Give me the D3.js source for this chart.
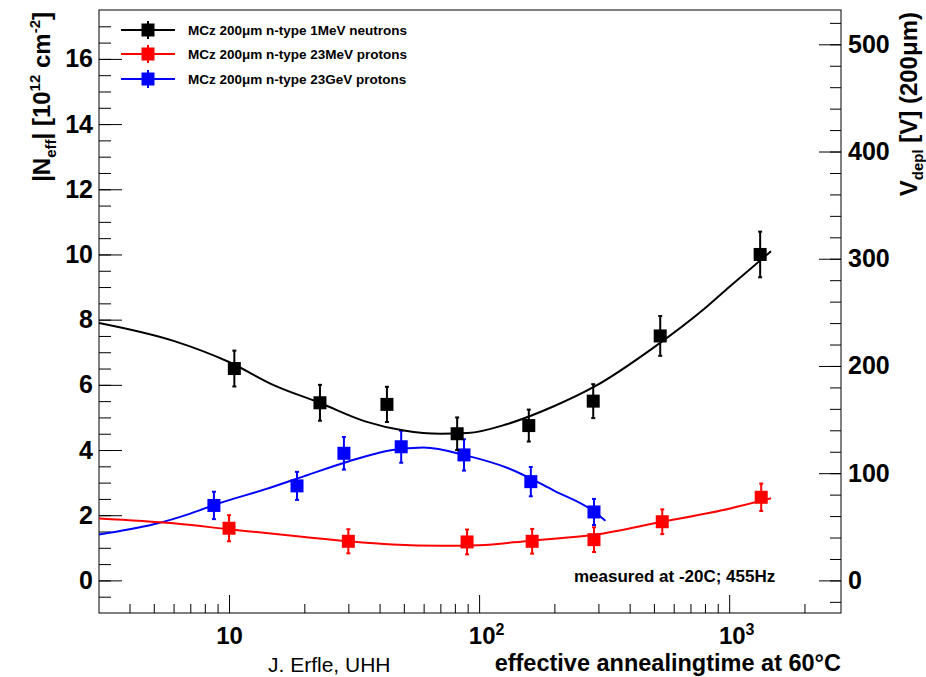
<!DOCTYPE html>
<html>
<head>
<meta charset="utf-8">
<script src="https://cdnjs.cloudflare.com/ajax/libs/d3/7.8.5/d3.min.js"></script>
<style>
  body { margin: 0; background: #fff; }
  svg { display: block; }
  text { font-family: "Liberation Sans", Arial, Helvetica, sans-serif; }
</style>
</head>
<body>
<div id="container"></div>
<script>
/* CONSTANTS AND GLOBALS */
const width = 926,
  height = 677,
  margin = { top: 10, bottom: 64, left: 99, right: 85 };

// N_eff -> V_depl for 200um thick sensor
const voltsPerUnit = 30.4;

/* DATA */
// 1MeV neutrons
const neutronTime = [10.5, 23.1, 42.8, 81.7, 158, 286, 530, 1330];
const neutronNeff = [6.5, 5.45, 5.4, 4.5, 4.75, 5.5, 7.5, 10.0];
const neutronErr  = [0.55, 0.55, 0.54, 0.5, 0.49, 0.52, 0.61, 0.7];
const neutronFitTime = [3.02, 6, 10, 15, 23, 35, 50, 70, 90, 130, 200, 290, 500, 800, 1000, 1470];
const neutronFitNeff = [7.9, 7.35, 6.7, 6.0, 5.45, 4.88, 4.6, 4.5, 4.52, 4.8, 5.35, 5.95, 7.15, 8.35, 9.0, 10.1];

// 23MeV protons
const pMeVTime = [10, 30, 89.5, 163, 288, 540, 1343];
const pMeVNeff = [1.6, 1.2, 1.18, 1.2, 1.25, 1.8, 2.55];
const pMeVErr  = [0.4, 0.37, 0.38, 0.38, 0.38, 0.38, 0.42];
const pMeVFitTime = [3.02, 6, 10, 20, 30, 45, 70, 100, 160, 290, 540, 1000, 1470];
const pMeVFitNeff = [1.9, 1.75, 1.57, 1.33, 1.2, 1.1, 1.06, 1.08, 1.22, 1.4, 1.8, 2.2, 2.52];

// 23GeV protons
const pGeVTime = [8.7, 18.7, 28.8, 48.8, 87, 161, 288];
const pGeVNeff = [2.3, 2.9, 3.9, 4.1, 3.85, 3.03, 2.1];
const pGeVErr  = [0.42, 0.43, 0.5, 0.49, 0.48, 0.45, 0.4];
const pGeVFitTime = [3.02, 5, 7, 9, 14, 20, 30, 45, 60, 90, 130, 200, 290, 320];
const pGeVFitNeff = [1.41, 1.72, 2.05, 2.35, 2.8, 3.2, 3.65, 4.0, 4.08, 3.82, 3.45, 2.75, 2.1, 1.83];

const seriesNames = [
  "MCz 200\u03bcm n-type 1MeV neutrons",
  "MCz 200\u03bcm n-type 23MeV protons",
  "MCz 200\u03bcm n-type 23GeV protons"
];
const seriesColors = ["#000000", "#ff0000", "#0000ff"];

const xMajorTicks = [10, 100, 1000];
const xMinorTicks = [4, 5, 6, 7, 8, 9, 20, 30, 40, 50, 60, 70, 80, 90,
  200, 300, 400, 500, 600, 700, 800, 900, 2000];
const yMajorTicks = [0, 2, 4, 6, 8, 10, 12, 14, 16];
const vMajorTicks = [0, 100, 200, 300, 400, 500];

/* SCALES */
const xScale = d3.scaleLog()
  .domain([3.02, 2800])
  .range([margin.left, width - margin.right]);

const yScale = d3.scaleLinear()
  .domain([-1, 17.5])
  .range([height - margin.bottom, margin.top]);

const vScale = d3.scaleLinear()
  .domain([-1 * voltsPerUnit, 17.5 * voltsPerUnit])
  .range([height - margin.bottom, margin.top]);

/* SVG */
const svg = d3.select("#container")
  .append("svg")
  .attr("width", width)
  .attr("height", height)
  .style("background-color", "white");

// frame
svg.append("rect")
  .attr("x", margin.left)
  .attr("y", margin.top)
  .attr("width", width - margin.left - margin.right)
  .attr("height", height - margin.top - margin.bottom)
  .attr("fill", "none")
  .attr("stroke", "black");

const labelFont = 25;

// X AXIS
svg.append("g")
  .attr("transform", `translate(0, ${height - margin.bottom})`)
  .call(d3.axisBottom(xScale).tickValues(xMinorTicks).tickSize(-9).tickFormat(""))
  .call(g => g.select(".domain").remove());

const xMajor = svg.append("g")
  .attr("transform", `translate(0, ${height - margin.bottom})`)
  .call(d3.axisBottom(xScale).tickValues(xMajorTicks).tickSize(-18).tickPadding(14).tickFormat(() => "10"))
  .call(g => g.select(".domain").remove());

xMajor.selectAll("text")
  .attr("font-size", 24)
  .attr("font-weight", "bold")
  .attr("font-family", "Liberation Sans, Arial, sans-serif")
  .each(function(d) {
    const e = Math.round(Math.log10(d));
    if (e > 1) {
      const t = d3.select(this);
      t.attr("dx", 7);
      t.append("tspan")
        .attr("font-size", 16)
        .attr("dy", "-0.55em")
        .text(e);
    }
  });

// LEFT AXIS
svg.append("g")
  .attr("transform", `translate(${margin.left}, 0)`)
  .call(d3.axisLeft(yScale).tickValues(d3.range(-0.5, 17.5, 0.5)).tickSize(-12).tickFormat(""))
  .call(g => g.select(".domain").remove());

svg.append("g")
  .attr("transform", `translate(${margin.left}, 0)`)
  .call(d3.axisLeft(yScale).tickValues(yMajorTicks).tickSize(-23).tickPadding(6))
  .call(g => g.select(".domain").remove())
  .selectAll("text")
  .attr("font-size", labelFont)
  .attr("font-weight", "bold")
  .attr("font-family", "Liberation Sans, Arial, sans-serif");

// RIGHT AXIS
svg.append("g")
  .attr("transform", `translate(${width - margin.right}, 0)`)
  .call(d3.axisRight(vScale).tickValues(d3.range(-20, 531, 20)).tickSize(-11).tickFormat(""))
  .call(g => g.select(".domain").remove());

svg.append("g")
  .attr("transform", `translate(${width - margin.right}, 0)`)
  .call(d3.axisRight(vScale).tickValues(vMajorTicks).tickSize(-22).tickPadding(7))
  .call(g => g.select(".domain").remove())
  .selectAll("text")
  .attr("font-size", labelFont)
  .attr("font-weight", "bold")
  .attr("font-family", "Liberation Sans, Arial, sans-serif");

svg.selectAll(".tick line").attr("stroke", "black");

// AXIS TITLES
const leftTitle = svg.append("text")
  .attr("transform", `translate(50, ${margin.top + 2}) rotate(-90)`)
  .attr("text-anchor", "end")
  .attr("font-size", 24)
  .attr("font-weight", "bold");
leftTitle.append("tspan").text("|N");
leftTitle.append("tspan").attr("font-size", 15).attr("dy", 6).text("eff");
leftTitle.append("tspan").attr("dy", -6).text("| [10");
leftTitle.append("tspan").attr("font-size", 15).attr("dy", -10).text("12");
leftTitle.append("tspan").attr("dy", 10).text(" cm");
leftTitle.append("tspan").attr("font-size", 15).attr("dy", -10).text("-2");
leftTitle.append("tspan").attr("dy", 10).text("]");

const rightTitle = svg.append("text")
  .attr("transform", `translate(917, ${margin.top + 2}) rotate(-90)`)
  .attr("text-anchor", "end")
  .attr("font-size", 24)
  .attr("font-weight", "bold");
rightTitle.append("tspan").text("V");
rightTitle.append("tspan").attr("font-size", 15).attr("dy", 6).text("depl");
rightTitle.append("tspan").attr("dy", -6).text(" [V] (200\u03bcm)");

svg.append("text")
  .attr("x", width - margin.right)
  .attr("y", 671)
  .attr("text-anchor", "end")
  .attr("font-size", 23.5)
  .attr("font-weight", "bold")
  .text("effective annealingtime at 60\u00b0C");

svg.append("text")
  .attr("x", 268)
  .attr("y", 672)
  .attr("font-size", 21)
  .text("J. Erfle, UHH");

svg.append("text")
  .attr("x", 574)
  .attr("y", 582)
  .attr("font-size", 17)
  .attr("font-weight", "bold")
  .text("measured at -20C; 455Hz");

/* SERIES */
const drawLine = d3.line()
  .x(d => xScale(d.t))
  .y(d => yScale(d.n))
  .curve(d3.curveMonotoneX);

const series = [
  { fitT: neutronFitTime, fitN: neutronFitNeff, t: neutronTime, n: neutronNeff, e: neutronErr },
  { fitT: pMeVFitTime, fitN: pMeVFitNeff, t: pMeVTime, n: pMeVNeff, e: pMeVErr },
  { fitT: pGeVFitTime, fitN: pGeVFitNeff, t: pGeVTime, n: pGeVNeff, e: pGeVErr }
];

const markerSize = 13;

// draw blue first, then red, black on top
[2, 1, 0].forEach(i => {
  const s = series[i];
  const color = seriesColors[i];
  const fit = s.fitT.map((t, j) => ({ t: t, n: s.fitN[j] }));
  const pts = s.t.map((t, j) => ({ t: t, n: s.n[j], e: s.e[j] }));

  svg.append("path")
    .datum(fit)
    .attr("fill", "none")
    .attr("stroke", color)
    .attr("stroke-width", 2)
    .attr("d", drawLine);

  const g = svg.append("g");
  const pt = g.selectAll(".pt")
    .data(pts)
    .join("g")
    .attr("class", "pt");

  pt.append("line")
    .attr("x1", d => xScale(d.t)).attr("x2", d => xScale(d.t))
    .attr("y1", d => yScale(d.n - d.e)).attr("y2", d => yScale(d.n + d.e))
    .attr("stroke", color).attr("stroke-width", 2);
  pt.append("line")
    .attr("x1", d => xScale(d.t) - 2).attr("x2", d => xScale(d.t) + 2)
    .attr("y1", d => yScale(d.n - d.e)).attr("y2", d => yScale(d.n - d.e))
    .attr("stroke", color).attr("stroke-width", 2);
  pt.append("line")
    .attr("x1", d => xScale(d.t) - 2).attr("x2", d => xScale(d.t) + 2)
    .attr("y1", d => yScale(d.n + d.e)).attr("y2", d => yScale(d.n + d.e))
    .attr("stroke", color).attr("stroke-width", 2);
  pt.append("rect")
    .attr("x", d => xScale(d.t) - markerSize / 2)
    .attr("y", d => yScale(d.n) - markerSize / 2)
    .attr("width", markerSize)
    .attr("height", markerSize)
    .attr("fill", color);
});

/* LEGEND */
const legend = svg.append("g");
const legendRows = [30, 54, 79];
seriesNames.forEach((name, i) => {
  const y = legendRows[i];
  legend.append("line")
    .attr("x1", 121).attr("x2", 175)
    .attr("y1", y).attr("y2", y)
    .attr("stroke", seriesColors[i]).attr("stroke-width", 2);
  legend.append("line")
    .attr("x1", 148).attr("x2", 148)
    .attr("y1", y - 9).attr("y2", y + 9)
    .attr("stroke", seriesColors[i]).attr("stroke-width", 2);
  legend.append("rect")
    .attr("x", 148 - markerSize / 2).attr("y", y - markerSize / 2)
    .attr("width", markerSize).attr("height", markerSize)
    .attr("fill", seriesColors[i]);
  legend.append("text")
    .attr("x", 188).attr("y", y + 5)
    .attr("font-size", 13.5)
    .attr("font-weight", "bold")
    .text(name);
});
</script>
</body>
</html>
